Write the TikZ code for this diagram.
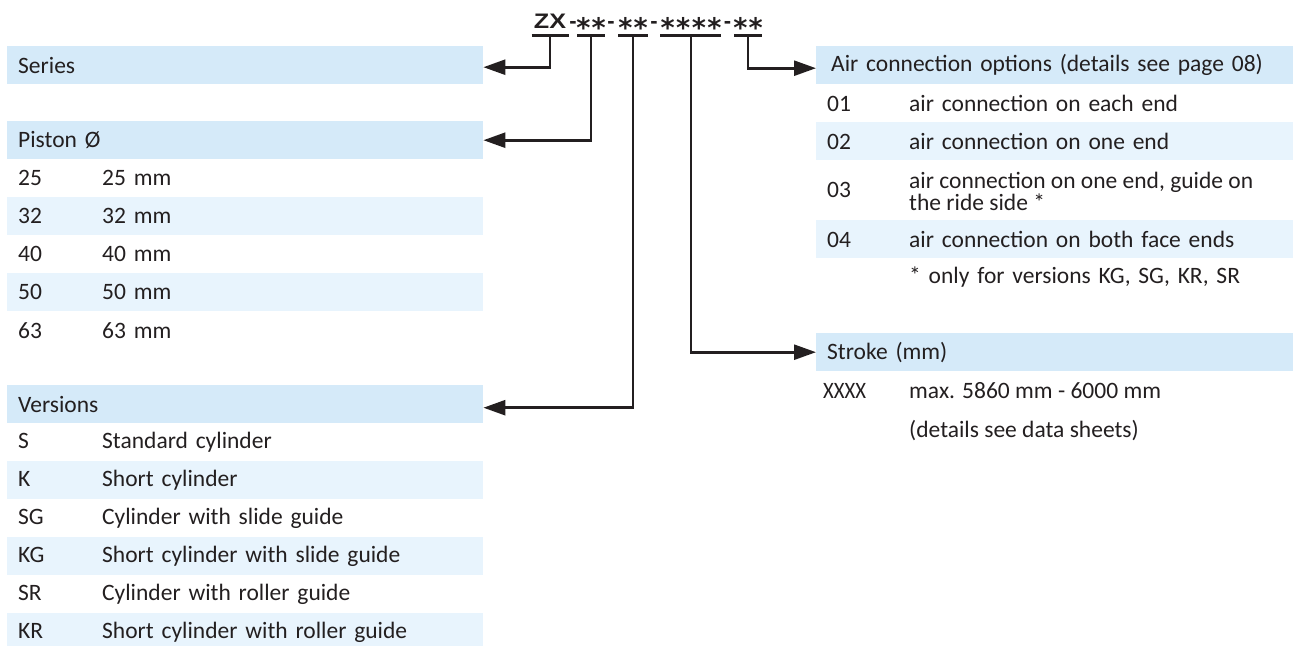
\documentclass[tikz,border=0pt]{standalone}
\usepackage{fontspec}
\setmainfont{Carlito}
\newfontfamily\codefont{Liberation Sans}
\newfontfamily\astfont{DejaVu Sans}
\usetikzlibrary{arrows.meta}
\definecolor{hdrblue}{HTML}{D5EAF9}
\definecolor{rowblue}{HTML}{E8F4FD}
\definecolor{ink}{HTML}{231F20}
\newcommand{\bodyfont}{\fontsize{23.5}{22}\selectfont}
\newcommand{\starz}[1]{{\astfont\bfseries\fontsize{27}{27}\selectfont\raisebox{-9.5pt}{#1}}}
\begin{document}
\begin{tikzpicture}[x=1pt,y=-1pt,
  every node/.style={text=ink},
  lrow/.style={anchor=north west, rectangle, minimum height=38pt, inner ysep=0pt, inner xsep=11pt, text width=454pt, align=left, font=\bodyfont},
  rrow/.style={lrow, text width=455pt},
  hdr/.style={fill=hdrblue},
  band/.style={fill=rowblue},
  desc/.style={anchor=west, inner sep=0pt, align=left, font=\bodyfont},
  code/.style={anchor=base, inner sep=0pt, font=\codefont\bfseries\fontsize{22}{24}\selectfont},
  uline/.style={draw=ink, line width=2.2pt},
  conn/.style={draw=ink, line width=2.6pt, -{Triangle[length=22pt,width=15pt]}},
]
\useasboundingbox (0,0) rectangle (1295,645);

% ---- code line
\node[code,font=\codefont\bfseries\fontsize{21}{24}\selectfont] (zx) at (550,28) {\scalebox{1.2}[1]{ZX}};
\node[code] (h1) at (573,28) {-};
\node[code] (a1) at (591,28) {\starz{*\kern1pt*}};
\node[code] (h2) at (611,28) {-};
\node[code] (a2) at (633,28) {\starz{*\kern1pt*}};
\node[code] (h3) at (654,28) {-};
\node[code] (a3) at (691,28) {\starz{*\kern1.5pt*\kern1.5pt*\kern1.5pt*}};
\node[code] (h4) at (727.5,28) {-};
\node[code] (a4) at (748,28) {\starz{*\kern1pt*}};

\coordinate (uzx) at ([yshift=-7.5pt]zx.base);
\coordinate (ua1) at ([yshift=-7.5pt]a1.base);
\coordinate (ua2) at ([yshift=-7.5pt]a2.base);
\coordinate (ua3) at ([yshift=-7.5pt]a3.base);
\coordinate (ua4) at ([yshift=-7.5pt]a4.base);
\draw[uline] ([xshift=-18.5pt]uzx) -- ([xshift=18.5pt]uzx);
\draw[uline] ([xshift=-14pt]ua1) -- ([xshift=14pt]ua1);
\draw[uline] ([xshift=-15pt]ua2) -- ([xshift=15pt]ua2);
\draw[uline] ([xshift=-31pt]ua3) -- ([xshift=30pt]ua3);
\draw[uline] ([xshift=-14pt]ua4) -- ([xshift=14pt]ua4);

% ---- left panel
\node[lrow,hdr] (series) at (7,46) {Series};

\node[lrow,hdr] (piston) at (7,121) {Piston Ø};
\node[lrow] (p25) at (7,159) {\makebox[84pt][l]{25}25 mm};
\node[lrow,band] (p32) at (7,197) {\makebox[84pt][l]{32}32 mm};
\node[lrow] (p40) at (7,235) {\makebox[84pt][l]{40}40 mm};
\node[lrow,band] (p50) at (7,273) {\makebox[84pt][l]{50}50 mm};
\node[lrow] (p63) at (7,311) {\makebox[84pt][l]{63}63 mm};

\node[lrow,hdr] (versions) at (7,385) {Versions};
\node[lrow] (vS) at (7,423) {\makebox[84pt][l]{S}Standard cylinder};
\node[lrow,band] (vK) at (7,461) {\makebox[84pt][l]{K}Short cylinder};
\node[lrow] (vSG) at (7,499) {\makebox[84pt][l]{SG}Cylinder with slide guide};
\node[lrow,band] (vKG) at (7,537) {\makebox[84pt][l]{KG}Short cylinder with slide guide};
\node[lrow] (vSR) at (7,575) {\makebox[84pt][l]{SR}Cylinder with roller guide};
\node[lrow,band] (vKR) at (7,613) {\makebox[84pt][l]{KR}Short cylinder with roller guide};

% ---- right panel
\node[rrow,hdr] (air) at (816,46) {\hspace*{4pt}Air connection options (details see page 08)};
\node[rrow] (o1) at (816,84) {\makebox[82pt][l]{01}air connection on each end};
\node[rrow,band] (o2) at (816,122) {\makebox[82pt][l]{02}air connection on one end};
\node[rrow,minimum height=60pt] (o3) at (816,160) {03};
\node[desc] (o3d) at (909,191) {air connection on one end, guide on\\the ride side *};
\node[rrow,band] (o4) at (816,220) {\makebox[82pt][l]{04}air connection on both face ends};
\node[rrow] (onote) at (816,258) {\makebox[82pt][l]{}* only for versions KG, SG, KR, SR};

\node[rrow,hdr] (stroke) at (816,333) {Stroke (mm)};
\node[desc] (sx) at (823,391) {\scalebox{0.88}[1]{XXXX}};
\node[desc] (sxd) at (909,391) {max. 5860 mm - 6000 mm};
\node[desc] (sxd2) at (909,431) {(details see data sheets)};

% ---- connectors
\draw[conn] (uzx) |- ([yshift=-2pt]series.east);
\draw[conn] (ua1) |- (piston.east);
\draw[conn] (ua2) |- ([yshift=-3.5pt]versions.east);
\draw[conn] (ua3) |- (stroke.west);
\draw[conn] (ua4) |- ([yshift=-3pt]air.west);
\end{tikzpicture}
\end{document}
